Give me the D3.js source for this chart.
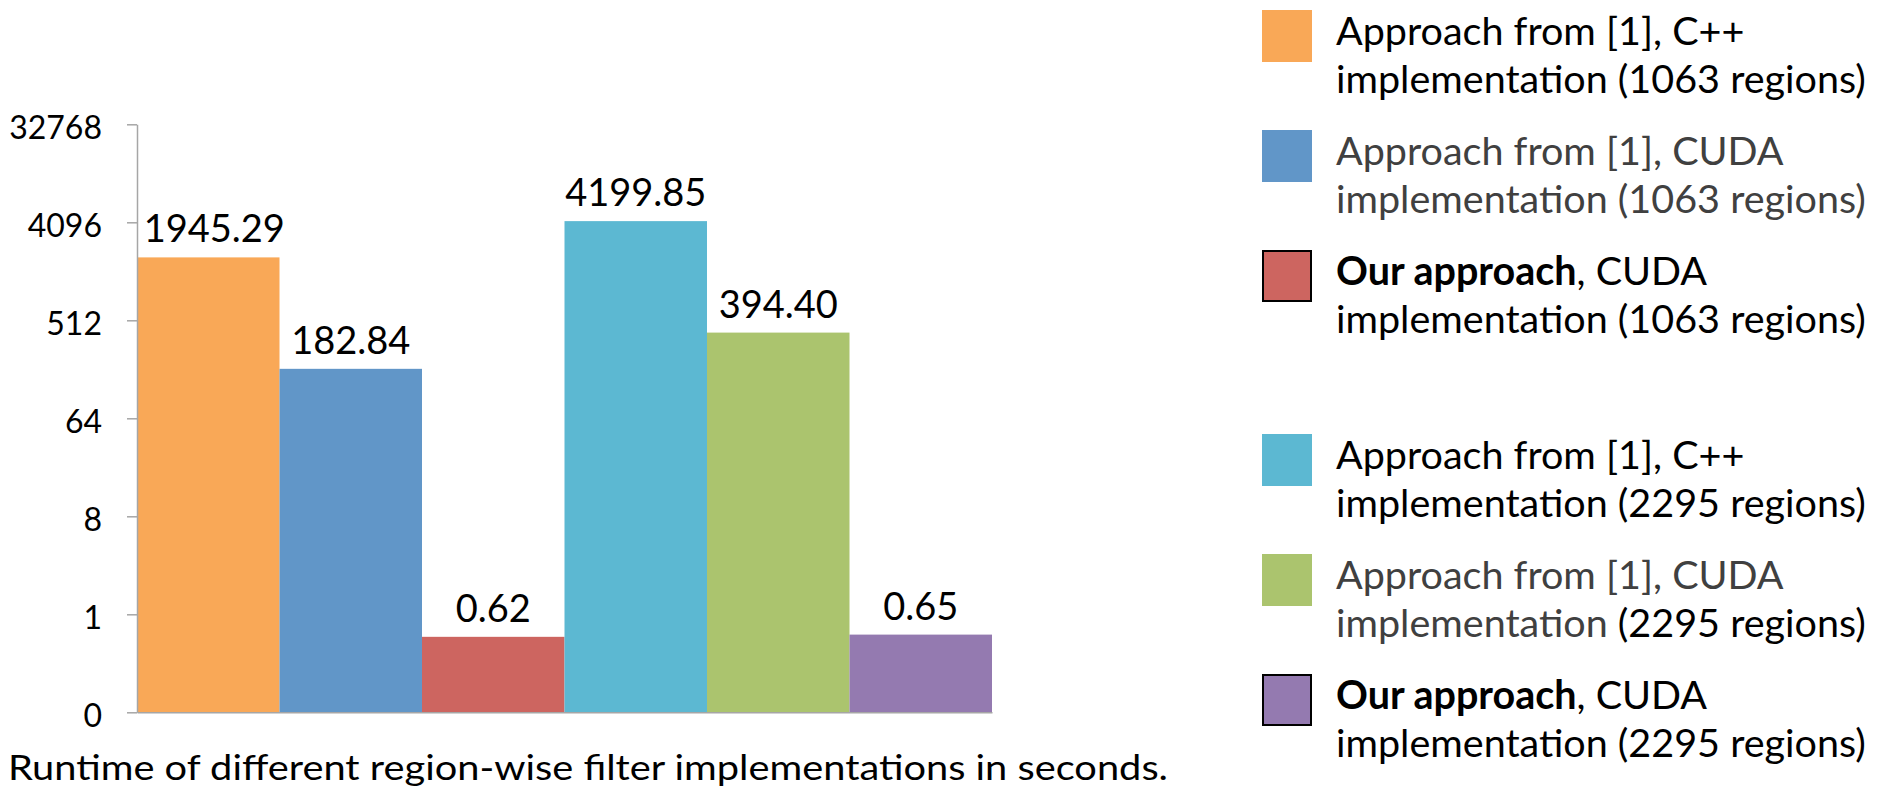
<html>
<head>
<script src="https://d3js.org/d3.v7.min.js"></script>
<style>
    body { margin: 0; background: #fff; }
    text { font-family: Lato, "Open Sans", sans-serif; }
</style>
</head>
<body>
<svg id="chart" width="1879" height="789"></svg>
<script>
// values (seconds, log2 axis)
const runtimes = [1945.29, 182.84, 0.62, 4199.85, 394.40, 0.65];
const valueLabels = ["1945.29", "182.84", "0.62", "4199.85", "394.40", "0.65"];
const seriesColors = ["#f9a857", "#6196c8", "#cd6560", "#5cb8d2", "#abc46e", "#947ab0"];
const yTicks = [0.125, 1, 8, 64, 512, 4096, 32768];
const legendBold = ["", "", "Our approach", "", "", "Our approach"];
const legendLine1 = ["Approach from [1], C++", "Approach from [1], CUDA", ", CUDA",
                     "Approach from [1], C++", "Approach from [1], CUDA", ", CUDA"];
const legendLine2 = ["implementation (1063 regions)", "implementation (1063 regions)", "implementation (1063 regions)",
                     "implementation (2295 regions)", "implementation (2295 regions)", "implementation (2295 regions)"];
const caption = "Runtime of different region-wise filter implementations in seconds.";

const svg = d3.select("#chart");
const axisColor = "#a6a6a6";

const x = d3.scaleBand().domain(d3.range(runtimes.length)).range([137, 992]).padding(0);
const y = d3.scaleLog().base(2).domain([0.125, 32768]).range([712.3, 124.3]);

// bars
svg.append("g").selectAll("rect")
    .data(runtimes)
    .join("rect")
    .attr("x", (d, i) => x(i))
    .attr("width", x.bandwidth())
    .attr("y", d => y(d))
    .attr("height", d => y(0.125) - y(d))
    .attr("fill", (d, i) => seriesColors[i]);

// value labels
svg.append("g").selectAll("text")
    .data(runtimes)
    .join("text")
    .attr("x", (d, i) => x(i) + x.bandwidth() / 2 + (i === 0 ? 6 : 0))
    .attr("y", d => y(d) - 15)
    .attr("text-anchor", "middle")
    .attr("font-size", 38)
    .attr("fill", "#000")
    .text((d, i) => valueLabels[i]);

// y axis
const yAxis = svg.append("g").attr("transform", "translate(137,0)")
    .call(d3.axisLeft(y).tickValues(yTicks).tickSize(10).tickSizeOuter(0).tickPadding(25)
        .tickFormat(d => d < 1 ? "0" : d3.format("d")(d)));
yAxis.selectAll("text").attr("font-size", 32).attr("fill", "#000").attr("dy", "0.45em")
    .style("font-family", "Lato, sans-serif");
yAxis.selectAll("line").attr("stroke", axisColor).attr("stroke-width", 1.5);
yAxis.select(".domain").attr("stroke", axisColor).attr("stroke-width", 1.5);

// x axis (line only)
const xAxis = svg.append("g").attr("transform", "translate(0," + y(0.125) + ")")
    .call(d3.axisBottom(x).tickSize(0).tickFormat(""));
xAxis.select(".domain").attr("stroke", axisColor).attr("stroke-width", 1.5);

// caption (reference text is wide for its height, so stretch it to fit)
svg.append("text")
    .attr("x", 8).attr("y", 780)
    .attr("font-size", 34)
    .attr("textLength", 1160)
    .attr("lengthAdjust", "spacingAndGlyphs")
    .attr("fill", "#000")
    .text(caption);

// legend
const grayText = "#404040";
const legend = svg.append("g");
runtimes.forEach((d, i) => {
    const group = Math.floor(i / 3), k = i % 3;
    const top = 10 + group * 424 + k * 120;
    const boxed = legendBold[i] !== "";
    legend.append("rect")
        .attr("x", boxed ? 1263 : 1262).attr("y", boxed ? top + 1 : top)
        .attr("width", boxed ? 48 : 50).attr("height", boxed ? 50 : 52)
        .attr("fill", seriesColors[i])
        .attr("stroke", boxed ? "#000" : "none")
        .attr("stroke-width", 2);

    const t1 = legend.append("text").attr("x", 1336).attr("y", top + 35).attr("font-size", 39.5);
    if (boxed) {
        t1.append("tspan").attr("font-weight", "bold").attr("fill", "#000").text(legendBold[i]);
    }
    t1.append("tspan").attr("fill", i === 1 || i === 4 ? grayText : "#000").text(legendLine1[i]);

    const t2 = legend.append("text").attr("x", 1336).attr("y", top + 83).attr("font-size", 39.5);
    const parts = legendLine2[i].split(" (");
    t2.append("tspan").attr("fill", i === 1 || i === 4 ? grayText : "#000").text(parts[0] + " ");
    t2.append("tspan").attr("fill", i === 1 ? grayText : "#000").text("(" + parts[1]);
});
</script>
</body>
</html>
